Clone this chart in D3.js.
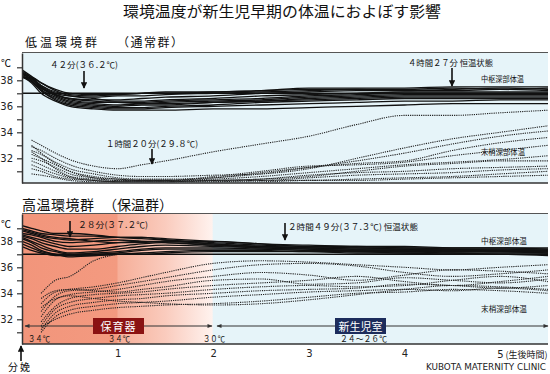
<!DOCTYPE html>
<html>
<head>
<meta charset="utf-8">
<script src="https://cdn.jsdelivr.net/npm/d3@7"></script>
<style>
  body { margin: 0; background: #fff; }
  svg { display: block; }
</style>
</head>
<body>
<div id="chart"></div>
<script>
// time after birth (hours) at which each series is sampled
const hours = [0, 0.1, 0.2, 0.35, 0.5, 0.75, 1, 1.25, 1.5, 2, 2.5, 3, 3.5, 4, 4.5, 5, 5.5];

// 低温環境群 - 中枢深部体温
const lowCore = [
  [38.8, 38.3, 37.8, 37.3, 37.0, 36.9, 36.9, 37.0, 37.0, 37.1, 37.2, 37.4, 37.4, 37.4, 37.5, 37.5, 37.5],
  [38.6, 38.2, 37.6, 37.0, 36.8, 36.7, 36.8, 36.8, 36.9, 37.0, 37.1, 37.2, 37.3, 37.3, 37.4, 37.3, 37.4],
  [38.5, 38.1, 37.5, 36.9, 36.6, 36.5, 36.5, 36.6, 36.7, 36.8, 37.0, 37.1, 37.2, 37.2, 37.2, 37.3, 37.2],
  [38.2, 38.2, 37.8, 37.2, 36.8, 36.6, 36.4, 36.4, 36.5, 36.6, 36.8, 36.9, 37.0, 37.1, 37.1, 37.1, 37.1],
  [38.7, 38.2, 37.4, 36.9, 36.5, 36.3, 36.3, 36.3, 36.4, 36.5, 36.6, 36.8, 36.9, 37.0, 37.0, 37.0, 37.0],
  [38.3, 37.9, 37.4, 36.8, 36.4, 36.2, 36.1, 36.2, 36.3, 36.4, 36.5, 36.7, 36.8, 36.9, 36.9, 36.9, 36.9],
  [38.5, 38.0, 37.3, 36.7, 36.3, 36.1, 36.0, 36.1, 36.1, 36.3, 36.4, 36.6, 36.7, 36.8, 36.8, 36.8, 36.8],
  [38.2, 38.2, 37.5, 36.9, 36.6, 36.4, 36.3, 36.2, 36.2, 36.3, 36.4, 36.5, 36.6, 36.7, 36.7, 36.7, 36.7],
  [38.6, 38.0, 37.2, 36.6, 36.2, 36.0, 35.9, 35.9, 36.0, 36.1, 36.3, 36.4, 36.5, 36.6, 36.6, 36.6, 36.6],
  [38.4, 37.9, 37.2, 36.5, 36.1, 35.9, 35.8, 35.8, 35.9, 36.0, 36.1, 36.2, 36.3, 36.4, 36.4, 36.5, 36.5],
  [38.3, 37.8, 37.0, 36.4, 36.0, 35.8, 35.7, 35.7, 35.7, 35.8, 35.8, 35.9, 36.0, 36.1, 36.2, 36.2, 36.2],
  [38.5, 38.1, 37.6, 37.1, 36.9, 36.8, 36.9, 37.0, 37.1, 37.1, 37.2, 37.3, 37.3, 37.2, 37.3, 37.4, 37.3]
];

// 低温環境群 - 末梢深部体温
const lowSkin = [
  [null, 33.4, 33.0, 32.4, 31.9, 31.4, 31.2, 31.5, 31.8, 32.5, 33.1, 33.7, 34.6, 35.3, 35.3, 35.5, 35.7],
  [null, 32.9, 32.6, 32.0, 31.5, 31.0, 30.7, 30.6, 30.6, 30.7, 30.8, 31.2, 32.0, 32.8, 33.5, 34.0, 34.5],
  [null, 32.6, 32.3, 31.7, 31.2, 30.8, 30.5, 30.4, 30.4, 30.5, 30.8, 31.3, 31.8, 32.4, 33.1, 33.7, 34.1],
  [null, 32.3, 32.0, 31.5, 31.0, 30.6, 30.4, 30.3, 30.3, 30.5, 30.9, 31.3, 31.6, 31.8, 32.6, 33.2, 33.6],
  [null, 32.0, 31.8, 31.3, 30.8, 30.5, 30.4, 30.3, 30.3, 30.4, 30.6, 30.9, 31.2, 31.5, 31.7, 31.9, 32.2],
  [null, 31.8, 31.5, 31.0, 30.6, 30.4, 30.3, 30.3, 30.3, 30.3, 30.4, 30.6, 31.0, 31.4, 31.6, 31.8, 31.8],
  [null, 31.5, 31.2, 30.8, 30.5, 30.3, 30.2, 30.2, 30.2, 30.3, 30.4, 30.7, 30.9, 31.0, 31.2, 31.3, 31.4],
  [null, 31.2, 31.0, 30.6, 30.4, 30.3, 30.2, 30.2, 30.2, 30.3, 30.3, 30.5, 30.7, 30.8, 30.9, 31.1, 31.2],
  [null, 30.8, 30.7, 30.5, 30.3, 30.2, 30.2, 30.2, 30.2, 30.2, 30.3, 30.3, 30.4, 30.5, 30.6, 30.8, 31.0],
  [null, 32.5, 32.0, 31.2, 30.6, 30.3, 30.2, 30.2, 30.2, 30.2, 30.2, 30.3, 30.3, 30.4, 30.5, 30.6, 30.7],
  [null, 33.0, 32.4, 31.6, 31.0, 30.5, 30.3, 30.3, 30.3, 30.6, 31.0, 31.4, 31.5, 31.7, 32.2, 32.6, 33.0]
];

// 高温環境群 - 中枢深部体温
const highCore = [
  [39.2, 39.0, 38.8, 38.6, 38.6, 38.5, 38.3, 38.2, 38.1, 37.9, 37.7, 37.6, 37.5, 37.5, 37.4, 37.4, 37.4],
  [39.0, 38.8, 38.6, 38.5, 38.4, 38.4, 38.3, 38.3, 38.2, 38.0, 37.8, 37.6, 37.6, 37.5, 37.5, 37.5, 37.4],
  [38.8, 38.6, 38.4, 38.2, 38.1, 38.2, 38.3, 38.3, 38.1, 37.8, 37.6, 37.5, 37.4, 37.4, 37.4, 37.3, 37.3],
  [38.6, 38.5, 38.3, 38.0, 37.9, 38.0, 38.1, 38.0, 37.9, 37.7, 37.6, 37.5, 37.4, 37.4, 37.3, 37.3, 37.3],
  [38.5, 38.3, 38.1, 37.8, 37.6, 37.7, 37.9, 38.0, 38.0, 37.8, 37.6, 37.5, 37.5, 37.4, 37.4, 37.4, 37.3],
  [38.4, 38.2, 37.9, 37.6, 37.4, 37.4, 37.6, 37.8, 37.9, 37.7, 37.5, 37.4, 37.3, 37.3, 37.3, 37.2, 37.2],
  [38.3, 38.0, 37.7, 37.3, 37.1, 37.2, 37.4, 37.6, 37.7, 37.6, 37.5, 37.4, 37.3, 37.3, 37.2, 37.2, 37.2],
  [38.2, 37.9, 37.5, 37.2, 37.0, 37.1, 37.2, 37.4, 37.5, 37.5, 37.4, 37.3, 37.3, 37.2, 37.2, 37.2, 37.1],
  [38.0, 37.7, 37.3, 37.0, 36.9, 37.0, 37.1, 37.3, 37.4, 37.4, 37.4, 37.3, 37.2, 37.2, 37.1, 37.1, 37.1],
  [37.8, 37.5, 37.2, 37.0, 36.8, 36.9, 37.0, 37.1, 37.2, 37.3, 37.3, 37.2, 37.2, 37.1, 37.1, 37.0, 37.0],
  [37.6, 37.3, 37.1, 36.9, 36.9, 36.9, 37.0, 37.0, 37.1, 37.2, 37.2, 37.2, 37.1, 37.1, 37.0, 37.0, 36.9],
  [38.9, 38.7, 38.5, 38.3, 38.2, 38.0, 37.9, 37.9, 38.0, 38.0, 37.8, 37.7, 37.6, 37.6, 37.5, 37.5, 37.5]
];

// 高温環境群 - 末梢深部体温
const highSkin = [
  [null, null, 34.0, 35.0, 35.3, 36.5, 37.0, null, null, null, null, null, null, null, null, null, null],
  [null, null, 33.2, 34.1, 34.3, 34.5, 34.8, 35.2, 35.6, 36.3, 36.5, 36.4, 36.2, 36.0, 35.8, 36.0, 36.2],
  [null, null, 32.6, 33.8, 34.2, 34.3, 34.6, 34.9, 35.2, 35.8, 36.2, 36.3, 36.1, 35.6, 35.3, 35.5, 35.8],
  [null, null, 32.2, 33.5, 33.9, 34.1, 34.3, 34.6, 34.9, 35.3, 35.6, 35.4, 35.0, 35.4, 35.8, 35.7, 35.5],
  [null, null, 33.6, 34.2, 34.3, 34.2, 34.1, 34.3, 34.5, 35.0, 35.1, 34.7, 34.8, 35.2, 35.0, 34.8, 35.1],
  [null, null, 31.8, 33.0, 33.6, 33.9, 34.0, 34.1, 34.3, 34.6, 34.8, 35.0, 35.3, 34.9, 34.6, 34.9, 35.3],
  [null, null, 31.5, 32.8, 33.3, 33.6, 33.8, 33.9, 34.0, 34.3, 34.5, 34.6, 34.5, 34.6, 35.0, 35.3, 34.9],
  [null, null, 31.2, 32.5, 33.0, 33.3, 33.5, 33.6, 33.8, 34.0, 34.2, 34.3, 34.4, 34.7, 34.6, 34.4, 34.6],
  [null, null, 31.0, 32.2, 32.7, 33.0, 33.2, 33.3, 33.4, 33.7, 33.9, 34.1, 34.2, 34.3, 34.2, 34.4, 34.2],
  [null, null, 31.4, 32.0, 32.4, 32.7, 32.9, 33.0, 33.1, 33.2, 33.4, 33.7, 34.0, 34.1, 34.3, 34.2, 34.0],
  [null, null, 32.9, 33.6, 33.8, 33.6, 33.4, 33.3, 33.2, 33.1, 33.2, 33.5, 33.9, 34.3, 34.6, 34.5, 34.3]
];

const yTicks = [31, 32, 33, 34, 35, 36, 37, 38, 39];
const xTicks = [1, 2, 3, 4, 5];

const W = 550, H = 374;
const jp = "'Noto Sans CJK JP', 'Noto Sans', sans-serif";

const svg = d3.select("#chart").append("svg")
  .attr("width", W).attr("height", H)
  .style("font-family", jp);

const defs = svg.append("defs");
defs.append("marker").attr("id", "head")
  .attr("viewBox", "0 0 10 10").attr("refX", 9).attr("refY", 5)
  .attr("markerWidth", 4).attr("markerHeight", 4).attr("orient", "auto-start-reverse")
  .append("path").attr("d", "M0,0L10,5L0,10z").attr("fill", "#111");
defs.append("marker").attr("id", "small")
  .attr("viewBox", "0 0 10 10").attr("refX", 9).attr("refY", 5)
  .attr("markerWidth", 6).attr("markerHeight", 5).attr("orient", "auto-start-reverse")
  .append("path").attr("d", "M0,1L10,5L0,9z").attr("fill", "#333");

const x = d3.scaleLinear().domain([0, 5.5]).range([22, 548]);

// bottom panel background: warm incubator zone fading into the nursery blue
const fx = v => ((v - 22) / 526 * 100) + "%";
const grad = defs.append("linearGradient").attr("id", "warm")
  .attr("x1", 0).attr("x2", 1).attr("y1", 0).attr("y2", 0);
[[22, "#f2957b"], [117, "#f39a80"], [118, "#f6ae98"], [165, "#facbbd"], [212, "#fff2ee"],
 [213.5, "#e6f4f9"], [548, "#e6f4f9"]]
  .forEach(([p, c]) => grad.append("stop").attr("offset", fx(p)).attr("stop-color", c));

const panels = [
  { top: 53, bottom: 183, bg: "#e6f4f9", core: lowCore, skin: lowSkin, id: "c1" },
  { top: 214, bottom: 344, bg: "url(#warm)", core: highCore, skin: highSkin, id: "c2" }
];

panels.forEach(p => {
  const y = d3.scaleLinear().domain([30.1, 40.1]).range([p.bottom, p.top]);
  const g = svg.append("g");

  g.append("rect").attr("x", 22).attr("y", p.top).attr("width", 526).attr("height", p.bottom - p.top)
    .attr("fill", p.bg);

  defs.append("clipPath").attr("id", p.id).append("rect")
    .attr("x", 22).attr("y", p.top).attr("width", 526).attr("height", p.bottom - p.top);

  const plot = g.append("g").attr("clip-path", `url(#${p.id})`);
  const line = d3.line()
    .defined(d => d[1] != null)
    .x(d => x(d[0])).y(d => y(d[1]))
    .curve(d3.curveMonotoneX);

  plot.selectAll(".skin").data(p.skin).join("path")
    .attr("fill", "none").attr("stroke", "#222").attr("stroke-width", 1.1)
    .attr("stroke-dasharray", "1.2,1")
    .attr("d", s => line(s.map((v, i) => [hours[i], v])));

  plot.append("line").attr("x1", 22).attr("x2", 548)
    .attr("y1", y(37)).attr("y2", y(37)).attr("stroke", "#111").attr("stroke-width", 1.5);

  plot.selectAll(".core").data(p.core).join("path")
    .attr("fill", "none").attr("stroke", "#111").attr("stroke-width", 1.3)
    .attr("d", s => line(s.map((v, i) => [hours[i], v])));

  // frame
  g.append("line").attr("x1", 22).attr("x2", 548).attr("y1", p.top - 0.5).attr("y2", p.top - 0.5)
    .attr("stroke", "#555").attr("stroke-width", 1.2);
  g.append("line").attr("x1", 22).attr("x2", 548).attr("y1", p.bottom).attr("y2", p.bottom)
    .attr("stroke", "#333").attr("stroke-width", 1.5);

  const ax = g.append("g").attr("transform", "translate(22,0)")
    .call(d3.axisLeft(y).tickValues(yTicks).tickSize(5).tickSizeOuter(0).tickPadding(4)
      .tickFormat(d => d % 2 === 0 ? d : ""));
  ax.select(".domain").attr("stroke", "#333").attr("stroke-width", 1.5);
  ax.selectAll(".tick line").attr("stroke", "#333").attr("stroke-width", 1.2);
  ax.selectAll(".tick text").attr("font-size", 10).attr("fill", "#222")
    .attr("font-family", "'DejaVu Sans', sans-serif");

  g.append("text").attr("x", 1).attr("y", p.top + 14).attr("font-size", 10).text("℃");
});

// x axis (bottom panel)
const xAx = svg.append("g").attr("transform", "translate(0,344)")
  .call(d3.axisBottom(x).tickValues(xTicks.slice(0, 4)).tickSize(0).tickPadding(6)
    .tickFormat(d3.format("d")));
xAx.select(".domain").remove();
xAx.selectAll(".tick text").attr("font-size", 10).attr("fill", "#222")
  .attr("font-family", "'DejaVu Sans', sans-serif");
svg.append("text").attr("x", x(5) - 3).attr("y", 358).attr("font-size", 10)
  .attr("fill", "#222")
  .html(`<tspan font-family="'DejaVu Sans', sans-serif">${xTicks[4]}</tspan><tspan font-size="9" dx="2">(生後時間)</tspan>`);

function txt(t, xx, yy, size, opts = {}) {
  const e = svg.append("text").attr("x", xx).attr("y", yy).attr("font-size", size)
    .attr("fill", opts.fill || "#111").text(t);
  if (opts.len) e.attr("textLength", opts.len).attr("lengthAdjust", "spacingAndGlyphs");
  if (opts.anchor) e.attr("text-anchor", opts.anchor);
  if (opts.ls) e.attr("letter-spacing", opts.ls);
  return e;
}
function arrow(xx, y1, y2) {
  svg.append("line").attr("x1", xx).attr("x2", xx).attr("y1", y1).attr("y2", y2)
    .attr("stroke", "#111").attr("stroke-width", 1.6).attr("marker-end", "url(#head)");
}

// titles
txt("環境温度が新生児早期の体温におよぼす影響", 282, 17, 15, { anchor: "middle", len: 318 });
txt("低温環境群", 25, 47, 12, { ls: 3 });
txt("（通常群）", 117, 47, 12, { ls: 1.5 });
txt("高温環境群", 22, 210, 14, { ls: 0.5 });
txt("（保温群）", 103, 210, 14);

// top panel annotations
txt("４２分(３６.２℃)", 50, 68, 8.5, { len: 68 });
arrow(84, 71, 88);
txt("１時間２０分(２９.８℃)", 106, 147, 8.5, { len: 92 });
arrow(152, 149, 164);
txt("４時間２７分 恒温状態", 408, 66, 8.5, { len: 85 });
arrow(452, 68, 86);
txt("中枢深部体温", 481, 82, 8.5, { len: 43 });
txt("末梢深部体温", 481, 155, 8.5, { len: 44 });

// bottom panel annotations
arrow(70, 221, 237);
txt("２８分(３７.２℃)", 78, 228, 8.5, { len: 70 });
arrow(285, 223, 240);
txt("２時間４９分(３７.３℃) 恒温状態", 288, 230, 8.5, { len: 130 });
txt("中枢深部体温", 481, 244, 8.5, { len: 46 });
txt("末梢深部体温", 481, 312, 8.5, { len: 46 });

// environment bars
svg.append("line").attr("x1", 25).attr("x2", 212).attr("y1", 326).attr("y2", 326)
  .attr("stroke", "#333").attr("stroke-width", 1)
  .attr("marker-start", "url(#small)").attr("marker-end", "url(#small)");
svg.append("line").attr("x1", 217).attr("x2", 548).attr("y1", 326).attr("y2", 326)
  .attr("stroke", "#333").attr("stroke-width", 1)
  .attr("marker-start", "url(#small)").attr("marker-end", "url(#small)");
svg.append("rect").attr("x", 93).attr("y", 318).attr("width", 51).attr("height", 16).attr("fill", "#8a1212");
txt("保育器", 118.5, 330.5, 11, { anchor: "middle", fill: "#fff", ls: 1 });
svg.append("rect").attr("x", 335).attr("y", 318).attr("width", 51).attr("height", 16).attr("fill", "#1c2c5c");
txt("新生児室", 360.5, 330.5, 11, { anchor: "middle", fill: "#fff" });

txt("３４℃", 28, 342, 8.5, { len: 22 });
txt("３４℃", 108, 342, 8.5, { len: 22 });
txt("３０℃", 203, 342, 8.5, { len: 22 });
txt("２４～２６℃", 340, 342, 8.5, { len: 47 });

// birth marker
svg.append("line").attr("x1", 21).attr("x2", 21).attr("y1", 361).attr("y2", 346)
  .attr("stroke", "#111").attr("stroke-width", 1.6).attr("marker-end", "url(#head)");
txt("分娩", 8, 371, 10, { ls: 2 });

txt("KUBOTA MATERNITY CLINIC", 426, 370, 8.5, { len: 120, fill: "#222" })
  .attr("font-family", "'DejaVu Sans Condensed', 'DejaVu Sans', sans-serif");
</script>
</body>
</html>
